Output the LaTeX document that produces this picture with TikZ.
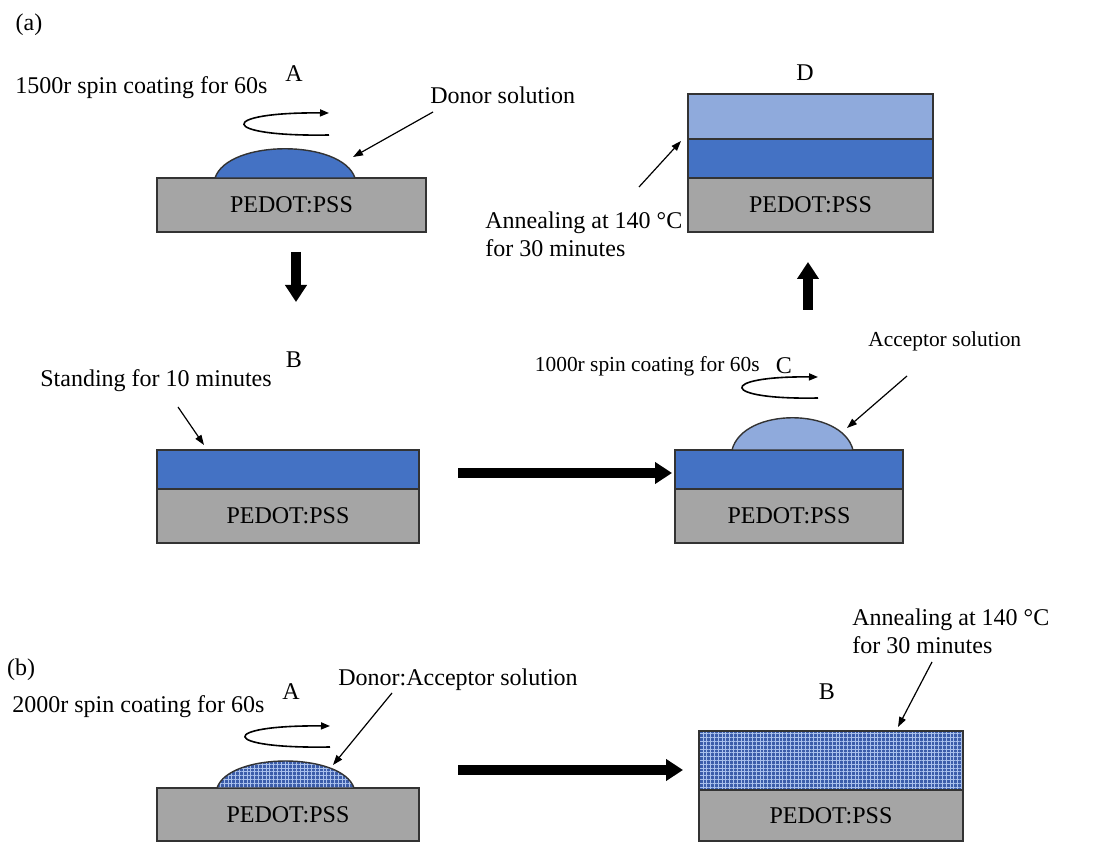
\documentclass[tikz,border=0pt]{standalone}
\usepackage{fontspec}
\setmainfont{Liberation Serif}
\usetikzlibrary{arrows.meta,patterns.meta}
\definecolor{donor}{HTML}{4472C4}
\definecolor{accep}{HTML}{8FAADC}
\definecolor{pedot}{HTML}{A5A5A5}
\definecolor{blend}{HTML}{3C5DAA}
\definecolor{blendhi}{HTML}{A9C0EC}
\newcommand\pxu{0.5pt}
\tikzset{
  box/.style n args={2}{draw=black!80, line width=0.7pt, inner sep=0pt,
    minimum width=#1*\pxu, minimum height=#2*\pxu},
  mixed/.style={preaction={fill=blend}, pattern={Hatch[angle=0,distance=1.9pt,line width=0.3pt]},
    pattern color=blendhi},
  drop/.style={draw=black!80, line width=0.7pt},
  spin/.style={line width=0.8pt, -{Triangle[length=4.5pt,width=3.5pt]}},
  note/.style={line width=0.6pt, -{Triangle[length=5pt,width=3.5pt]}},
  flow/.style={line width=5pt, -{Triangle[length=8.5pt 0,width=10.5pt 0]}},
  small/.style={font=\fontsize{10.7}{13}\selectfont}
}
\begin{document}
\begin{tikzpicture}[x=0.5pt, y=-0.5pt,
  every node/.style={inner sep=0pt, font=\fontsize{12}{14}\selectfont}]
  \useasboundingbox (0,0) rectangle (1105,844);
  % (a) A
  \node (Ta) at (29,25) {(a)};
  \node (A) at (294,74) {A};
  \node[anchor=west] (spinA) at (15,88) {1500r spin coating for 60s};
  \node[anchor=west] (donTxt) at (430,95) {Donor solution};
  \node[box={269}{54}, fill=pedot] (subA) at (291.5,205) {PEDOT:PSS};
  \draw[drop, fill=donor] (215,178) .. controls (228,139) and (342,139) .. (355,178) -- cycle;
  \coordinate (rotAb) at (329,135);
  \coordinate (rotAt) at (329,113);
  \draw[spin] (rotAb) .. controls +(-112,2) and +(-112,-1) .. (rotAt);
  \coordinate (donS) at (433,112);
  \coordinate (donT) at (353,157);
  \draw[note] (donS) -- (donT);
  % (a) D
  \node (D) at (805,73) {D};
  \node[box={245}{45}, fill=accep] (accD) at (810.5,116.5) {};
  \node[box={245}{39}, fill=donor] (donD) at (810.5,158.5) {};
  \node[box={245}{54}, fill=pedot] (subD) at (810.5,205) {PEDOT:PSS};
  \node[anchor=west, align=left] (annA) at (485,234) {Annealing at 140 °C\\for 30 minutes};
  \coordinate (annS) at (639,187);
  \coordinate (annT) at (681,141);
  \draw[note] (annS) -- (annT);
  % flow arrows
  \coordinate (dn1) at (296,252);
  \coordinate (dn2) at (296,302);
  \draw[flow] (dn1) -- (dn2);
  \coordinate (up1) at (808,310);
  \coordinate (up2) at (808,262);
  \draw[flow] (up1) -- (up2);
  % (a) B
  \node (B) at (294,360) {B};
  \node[anchor=west] (standTxt) at (40,381) {Standing for 10 minutes};
  \coordinate (stS) at (178,407);
  \coordinate (stT) at (204,445);
  \draw[note] (stS) -- (stT);
  \node[box={262}{39}, fill=donor] (donB) at (288,469.5) {};
  \node[box={262}{54}, fill=pedot] (subB) at (288,516) {PEDOT:PSS};
  \coordinate (rt1) at (458,473);
  \coordinate (rt2) at (672,473);
  \draw[flow] (rt1) -- (rt2);
  % (a) C
  \node (C) at (784,366) {C};
  \node[anchor=east, small] (spinC) at (760,366) {1000r spin coating for 60s};
  \node[anchor=west, small] (accTxt) at (868,341) {Acceptor solution};
  \coordinate (accS) at (907,376);
  \coordinate (accT) at (847,428);
  \draw[note] (accS) -- (accT);
  \node[box={228}{39}, fill=donor] (donC) at (789,469.5) {};
  \node[box={228}{54}, fill=pedot] (subC) at (789,516) {PEDOT:PSS};
  \draw[drop, fill=accep] (732,450) .. controls (743,407) and (842,407) .. (853,450) -- cycle;
  \coordinate (rotCb) at (818,398);
  \coordinate (rotCt) at (818,377);
  \draw[spin] (rotCb) .. controls +(-100,2) and +(-100,-1) .. (rotCt);
  % (b) A
  \node (Tb) at (21,670) {(b)};
  \node (Ab) at (291,692) {A};
  \node[anchor=west] (spinAb) at (12,707) {2000r spin coating for 60s};
  \node[anchor=west] (mixTxt) at (338,680) {Donor:Acceptor solution};
  \node[box={262}{53}, fill=pedot] (subAb) at (288,814.5) {PEDOT:PSS};
  \draw[drop, mixed] (217,788) .. controls (229,752) and (342,752) .. (354,788) -- cycle;
  \coordinate (rotBb) at (330,747);
  \coordinate (rotBt) at (330,726);
  \draw[spin] (rotBb) .. controls +(-112,2) and +(-112,-1) .. (rotBt);
  \coordinate (mixS) at (392,693);
  \coordinate (mixT) at (333,765);
  \draw[note] (mixS) -- (mixT);
  \coordinate (rb1) at (458,770);
  \coordinate (rb2) at (683,770);
  \draw[flow] (rb1) -- (rb2);
  % (b) B
  \node (Bb) at (827,692) {B};
  \node[anchor=west, align=left] (annB) at (852,631) {Annealing at 140 °C\\for 30 minutes};
  \coordinate (annBS) at (932,662);
  \coordinate (annBT) at (898,727);
  \draw[note] (annBS) -- (annBT);
  \node[box={264}{59}, mixed, draw=black!80] (mixB) at (831,760.5) {};
  \node[box={264}{51}, fill=pedot] (subBb) at (831,815.5) {PEDOT:PSS};
\end{tikzpicture}
\end{document}
